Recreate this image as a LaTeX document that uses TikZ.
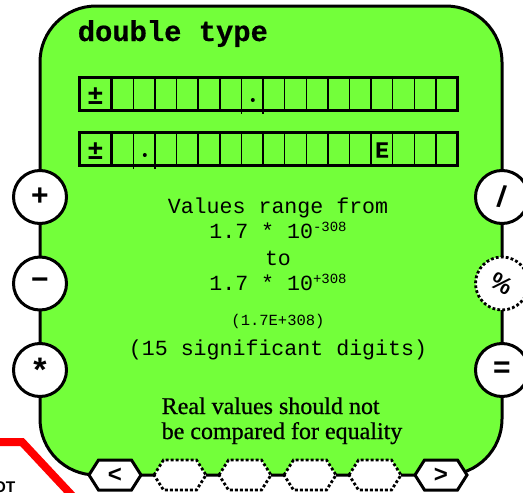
\documentclass[tikz,border=0pt]{standalone}
\usepackage{fontspec}
\setmainfont{Liberation Serif}
\setsansfont{Liberation Sans}
\setmonofont{Liberation Mono}
\usetikzlibrary{calc}
\definecolor{shellgreen}{RGB}{115,255,58}
\definecolor{cutred}{RGB}{255,0,0}
\tikzset{
  shell/.style={draw=black, line width=3pt, fill=shellgreen, rounded corners=56pt,
    minimum width=462pt, minimum height=469pt, inner sep=0pt},
  opbox/.style={circle, draw=black, line width=3pt, fill=white, minimum size=53pt,
    inner sep=0pt, font=\sffamily\bfseries\fontsize{30}{30}\selectfont},
  dotline/.style={line width=2.8pt, dash pattern=on 2.8pt off 2.2pt},
  hexline/.style={draw=black, line width=3pt, fill=white, line join=miter},
  hexdots/.style={hexline, dotline},
  hextxt/.style={font=\sffamily\bfseries\fontsize{24}{24}\selectfont, inner sep=0pt},
  regframe/.style={draw=black, line width=3.3pt},
  regsign/.style={draw=black, line width=3pt},
  regcell/.style={draw=black, line width=1.4pt},
  signtxt/.style={font=\ttfamily\bfseries\fontsize{27}{27}\selectfont, inner sep=0pt},
  dotmark/.style={circle, fill=black, minimum size=4pt, inner sep=0pt},
  titletxt/.style={font=\ttfamily\bfseries\fontsize{28.8}{30}\selectfont\addfontfeature{FakeBold=0.6},
    inner sep=0pt, anchor=base west},
  rangetxt/.style={font=\ttfamily\fontsize{21.6}{24}\selectfont, inner sep=0pt, anchor=base},
  smalltxt/.style={font=\ttfamily\fontsize{15.5}{17}\selectfont, inner sep=0pt, anchor=base},
  notetxt/.style={font=\rmfamily\fontsize{24}{25}\selectfont\addfontfeature{FakeBold=0.7},
    inner sep=0pt, anchor=base west},
  cutline/.style={draw=cutred, line width=8pt},
  cuttxt/.style={font=\sffamily\bfseries\fontsize{15.5}{16}\selectfont, inner sep=0pt},
}
\newcommand{\expo}[1]{\raisebox{6.6pt}{\fontsize{14}{14}\selectfont #1}}
\newcommand{\hexcell}[4]{%
  \draw[#3] (#2-26,475) -- (#2-16.5,460) -- (#2+16.5,460) -- (#2+26,475)
    -- (#2+16.5,490) -- (#2-16.5,490) -- cycle;
  \node[hextxt] (#1) at (#2,475.5) {#4};
}

\begin{document}
\begin{tikzpicture}[x=1pt, y=-1pt]
  \useasboundingbox (0,0) rectangle (523,493);
  \clip (0,0) rectangle (523,493);

  %% ---- cut-off piece (bottom left) ----
  \coordinate (c1) at (-10,442);
  \coordinate (c2) at (22,442);
  \coordinate (c3) at (79,503);
  \draw[cutline] (c1) -- (c2) -- (c3);
  \node[cuttxt, anchor=base east] (cut) at (15.5,492.7) {OT};

  %% ---- body ----
  \node[shell] (body) at (271,240.5) {};
  \node[titletxt] (title) at (77.6,41) {double type};

  %% ---- register rows ----
  \foreach \row/\ty in {1/77.7, 2/132.7} {
    \draw[regframe] (79.5,\ty) rectangle (457.6,\ty+32.6);
    \draw[regsign] (111.7,\ty) -- (111.7,\ty+32.6);
    \foreach \k in {1,...,15}
      \draw[regcell] (111.7+\k*21.62,\ty) -- (111.7+\k*21.62,\ty+32.6);
    \node[signtxt] (sign\row) at (95.6,\ty+18) {±};
  }
  % longer ticks round the point cells
  \foreach \x/\y in {241.4/110.3, 263/110.3, 133.3/165.3, 154.9/165.3}
    \draw[regcell] (\x,\y) -- (\x,\y+3.5);
  \node[dotmark] (pt1) at (252.8,100) {};
  \node[dotmark] (pt2) at (144.8,155) {};
  \node[signtxt, font=\ttfamily\bfseries\fontsize{23}{23}\selectfont\addfontfeature{FakeBold=0.6}] (exp) at (382,150) {E};

  %% ---- range text ----
  \node[rangetxt] (range) at (278,213.3) {Values range from};
  \node[rangetxt] (low)   at (278,238.3) {1.7 * 10\expo{-308}};
  \node[rangetxt] (to)    at (278,265)   {to};
  \node[rangetxt] (high)  at (278,290.3) {1.7 * 10\expo{+308}};
  \node[smalltxt] (sci)   at (278,325)   {(1.7E+308)};
  \node[rangetxt] (digits) at (278,355.7) {(15 significant digits)};

  \node[notetxt] (note1) at (161.5,414) {Real values should not};
  \node[notetxt] (note2) at (161.5,439) {be compared for equality};

  %% ---- operator circles ----
  \node[opbox] (add) at (40,197) {+};
  \node[opbox] (sub) at (40,283.5) {−};
  \node[opbox, font=\sffamily\bfseries\fontsize{34}{34}\selectfont] (mul) at (40,370) {\raisebox{-5pt}{*}};
  \node[opbox] (div) at (502,197) {\rotatebox{-8}{/}};
  \node[opbox, dotline, font=\sffamily\bfseries\fontsize{24}{24}\selectfont] (mod) at (502,283.5) {\rotatebox{-30}{\%}};
  \node[opbox] (eq)  at (502,370) {=};

  %% ---- bottom hexagons ----
  \hexcell{lt}{115}{hexline}{<}
  \foreach \n/\hx in {1/180, 2/245, 3/310, 4/375}
    {\hexcell{gap\n}{\hx}{hexdots}{}}
  \hexcell{gt}{441}{hexline}{>}

\end{tikzpicture}
\end{document}
